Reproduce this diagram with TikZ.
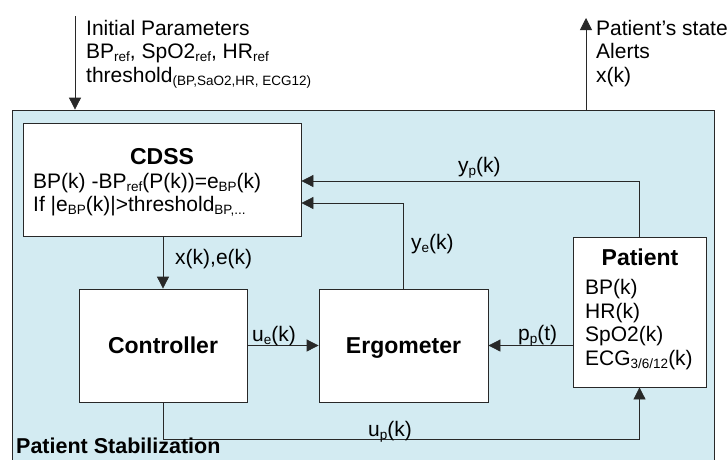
\documentclass[tikz,border=0pt]{standalone}
\usepackage{fontspec}
\setmainfont{Liberation Sans}
\usetikzlibrary{arrows.meta,calc}
\definecolor{bgblue}{RGB}{211,235,242}
\definecolor{linegray}{RGB}{40,40,40}
\newcommand{\sbx}[1]{\raisebox{-0.3ex}{\fontsize{13.5}{14}\selectfont #1}}
\begin{document}
\begin{tikzpicture}[x=1pt,y=-1pt,
  font=\fontsize{21}{23.5}\selectfont,
  box/.style={draw=linegray, fill=white, line width=0.8pt, inner sep=0pt},
  txt/.style={inner sep=0pt, anchor=base west},
  ttl/.style={inner sep=0pt, anchor=base, font=\fontsize{23}{26}\selectfont\bfseries},
  conn/.style={draw=linegray, line width=0.8pt},
  arr/.style={conn, -{Triangle[length=12pt,width=12pt]}},
  bigtitle/.style={font=\fontsize{23}{26}\selectfont\bfseries, text depth=0pt}]
\clip (0,0) rectangle (727,459);
\fill[white] (0,0) rectangle (727,459);
% outer frame
\node[draw=linegray, fill=bgblue, line width=0.8pt, minimum width=702pt, minimum height=370pt, inner sep=0pt] (outer) at (363,295) {};
% boxes
\node[box, minimum width=278pt, minimum height=113pt] (cdss) at (162,179.5) {};
\node[box, bigtitle, minimum width=168pt, minimum height=113pt] (ctrl) at (163,345.5) {Controller};
\node[box, bigtitle, minimum width=169pt, minimum height=113pt] (erg) at (403.5,345.5) {Ergometer};
\node[box, minimum width=133pt, minimum height=150pt] (pat) at (639.5,312) {};
% CDSS text
\node[ttl] (cdsst) at (162,164) {CDSS};
\node[txt] (cdss1) at (33,188) {BP(k) -BP\sbx{ref}(P(k))=e\sbx{BP}(k)};
\node[txt] (cdss2) at (33,211) {If |e\sbx{BP}(k)|>threshold\sbx{BP,...}};
% Patient text
\node[ttl] (patt) at (640,265) {Patient};
\node[txt] (pat1) at (585,294) {BP(k)};
\node[txt] (pat2) at (585,318) {HR(k)};
\node[txt] (pat3) at (585,341) {SpO2(k)};
\node[txt] (pat4) at (585,365) {ECG\sbx{3/6/12}(k)};
% input / output
\coordinate (inStart) at (75,16);
\coordinate (outEnd) at (586,18);
\draw[arr] (inStart) -- (inStart |- outer.north);
\draw[arr] (outEnd |- outer.north) -- (outEnd);
\node[txt] (in1) at (86,35) {Initial Parameters};
\node[txt] (in2) at (86,58.5) {BP\sbx{ref}, SpO2\sbx{ref}, HR\sbx{ref}};
\node[txt] (in3) at (86,82) {threshold\sbx{(BP,SaO2,HR, ECG12)}};
\node[txt] (out1) at (596,35) {Patient’s state};
\node[txt] (out2) at (596,58.5) {Alerts};
\node[txt] (out3) at (596,82) {x(k)};
% connectors
\draw[arr] (cdss.south -| ctrl.north) -- (ctrl.north);
\draw[arr] (ctrl.east) -- (erg.west);
\draw[arr] (erg.east -| pat.west) -- (erg.east);
\draw[arr] (pat.north) |- ($(cdss.east)+(0,1.5)$);
\draw[arr] (erg.north) |- ($(cdss.east)+(0,23.5)$);
\draw[arr] (ctrl.south) -- ++(0,37) -| (pat.south);
% labels
\node[txt] (lxe) at (175,264) {x(k),e(k)};
\node[txt] (lue) at (252,341) {u\sbx{e}(k)};
\node[txt] (lpp) at (518,340) {p\sbx{p}(t)};
\node[txt] (lyp) at (458,172) {y\sbx{p}(k)};
\node[txt] (lye) at (411,249) {y\sbx{e}(k)};
\node[txt] (lup) at (368,436) {u\sbx{p}(k)};
\node[txt, font=\fontsize{21.5}{24}\selectfont\bfseries] (stab) at (16,453) {Patient Stabilization};
\end{tikzpicture}
\end{document}
